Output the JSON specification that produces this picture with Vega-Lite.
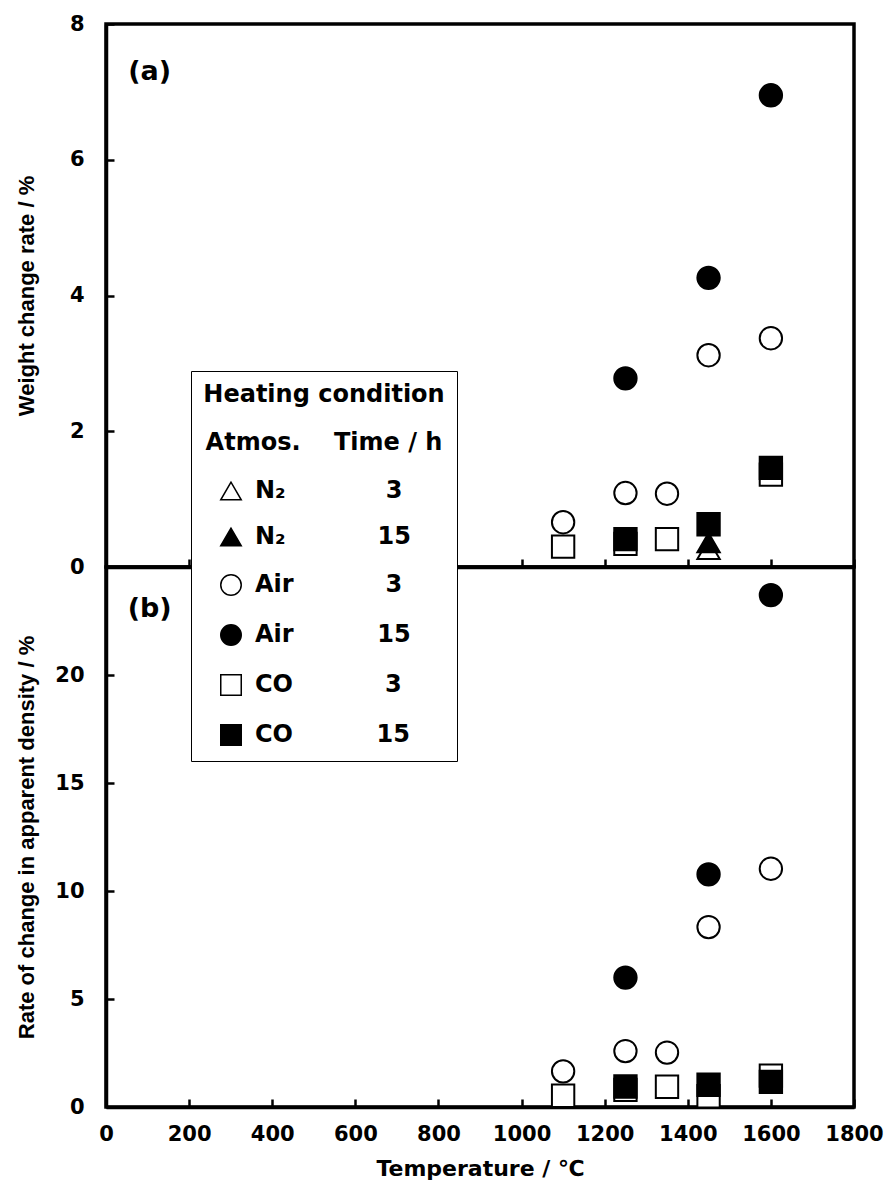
{
  "$schema": "https://vega.github.io/schema/vega-lite/v6.json",
  "background": "white",
  "padding": {"left": 13, "top": 11, "right": 10, "bottom": 10},
  "spacing": 0,
  "bounds": "flush",
  "datasets": {
    "a": [
      {"T": 1450, "v": 0.26, "cond": "N2-3"},
      {"T": 1450, "v": 0.36, "cond": "N2-15"},
      {"T": 1100, "v": 0.66, "cond": "Air-3"},
      {"T": 1250, "v": 1.09, "cond": "Air-3"},
      {"T": 1350, "v": 1.08, "cond": "Air-3"},
      {"T": 1450, "v": 3.12, "cond": "Air-3"},
      {"T": 1600, "v": 3.37, "cond": "Air-3"},
      {"T": 1250, "v": 2.78, "cond": "Air-15"},
      {"T": 1450, "v": 4.26, "cond": "Air-15"},
      {"T": 1600, "v": 6.95, "cond": "Air-15"},
      {"T": 1100, "v": 0.30, "cond": "CO-3"},
      {"T": 1250, "v": 0.34, "cond": "CO-3"},
      {"T": 1350, "v": 0.41, "cond": "CO-3"},
      {"T": 1600, "v": 1.36, "cond": "CO-3"},
      {"T": 1250, "v": 0.41, "cond": "CO-15"},
      {"T": 1450, "v": 0.63, "cond": "CO-15"},
      {"T": 1600, "v": 1.46, "cond": "CO-15"}
    ],
    "b": [
      {"T": 1100, "v": 1.65, "cond": "Air-3"},
      {"T": 1250, "v": 2.59, "cond": "Air-3"},
      {"T": 1350, "v": 2.52, "cond": "Air-3"},
      {"T": 1450, "v": 8.33, "cond": "Air-3"},
      {"T": 1600, "v": 11.03, "cond": "Air-3"},
      {"T": 1250, "v": 5.99, "cond": "Air-15"},
      {"T": 1450, "v": 10.77, "cond": "Air-15"},
      {"T": 1600, "v": 23.7, "cond": "Air-15"},
      {"T": 1100, "v": 0.52, "cond": "CO-3"},
      {"T": 1250, "v": 0.79, "cond": "CO-3"},
      {"T": 1350, "v": 0.94, "cond": "CO-3"},
      {"T": 1450, "v": 0.5, "cond": "CO-3"},
      {"T": 1600, "v": 1.45, "cond": "CO-3"},
      {"T": 1250, "v": 0.95, "cond": "CO-15"},
      {"T": 1450, "v": 1.03, "cond": "CO-15"},
      {"T": 1600, "v": 1.16, "cond": "CO-15"}
    ]
  },
  "config": {
    "view": {"stroke": "black", "strokeWidth": 3.5},
    "axis": {
      "domainColor": "black", "domainWidth": 3.5,
      "tickColor": "black", "tickWidth": 2.5, "tickSize": -8,
      "labelFont": "DejaVu Sans", "labelFontSize": 21, "labelFontWeight": "bold", "labelColor": "black",
      "labelFlush": false, "labelOverlap": false, "format": "d",
      "titleFont": "Liberation Sans", "titleFontSize": 22, "titleFontWeight": "bold", "titleColor": "black",
      "grid": false
    },
    "axisY": {"labelPadding": 30, "titleX": -80, "titleBaseline": "middle", "titleAngle": 270, "titleAlign": "center"},
    "axisX": {"labelPadding": 24}
  },
  "vconcat": [
    {
      "width": 748,
      "height": 543,
      "layer": [
        {
          "data": {"name": "a"},
          "mark": {"type": "point", "filled": true, "stroke": "black", "strokeWidth": 2, "opacity": 1, "size": 500},
          "encoding": {
            "x": {"field": "T", "type": "quantitative", "scale": {"domain": [0, 1800], "nice": false},
                  "axis": {"values": [0, 200, 400, 600, 800, 1000, 1200, 1400, 1600, 1800], "labels": false, "title": null}},
            "y": {"field": "v", "type": "quantitative", "scale": {"domain": [0, 8], "nice": false},
                  "axis": {"values": [0, 2, 4, 6, 8], "title": "Weight change rate / %", "titleY": 271.5}},
            "shape": {"field": "cond", "type": "nominal",
              "scale": {"domain": ["N2-3", "N2-15", "Air-3", "Air-15", "CO-3", "CO-15"],
                        "range": ["triangle-up", "triangle-up", "circle", "circle", "square", "square"]},
              "legend": {
                "orient": "none", "legendX": 85, "legendY": 347,
                "title": ["Heating condition", "Atmos.\u00a0\u00a0\u00a0\u00a0Time / h"],
                "labelExpr": "datum.value=='N2-3'?'N\u2082\u00a0\u00a0\u00a0\u00a0\u00a0\u00a0\u00a0\u00a0\u00a0\u00a0\u00a0\u00a03':datum.value=='N2-15'?'N\u2082\u00a0\u00a0\u00a0\u00a0\u00a0\u00a0\u00a0\u00a0\u00a0\u00a0\u00a015':datum.value=='Air-3'?'Air\u00a0\u00a0\u00a0\u00a0\u00a0\u00a0\u00a0\u00a0\u00a0\u00a0\u00a03':datum.value=='Air-15'?'Air\u00a0\u00a0\u00a0\u00a0\u00a0\u00a0\u00a0\u00a0\u00a0\u00a015':datum.value=='CO-3'?'CO\u00a0\u00a0\u00a0\u00a0\u00a0\u00a0\u00a0\u00a0\u00a0\u00a0\u00a03':'CO\u00a0\u00a0\u00a0\u00a0\u00a0\u00a0\u00a0\u00a0\u00a0\u00a015'",
                "titleFont": "DejaVu Sans", "titleFontSize": 24, "titleFontWeight": "bold", "titleColor": "black",
                "titleAnchor": "middle", "titleLineHeight": 48, "titlePadding": 24, "titleLimit": 500,
                "labelFont": "DejaVu Sans", "labelFontSize": 24, "labelFontWeight": "bold", "labelColor": "black",
                "labelLimit": 500, "labelOffset": 12,
                "symbolSize": 420, "symbolOffset": -18,
                "rowPadding": 22, "padding": 12, "strokeColor": "black", "fillColor": "white", "cornerRadius": 0,
                "encode": {
                  "legend": {"update": {"strokeWidth": {"value": 2}}},
                  "symbols": {"update": {"stroke": {"value": "black"}, "strokeWidth": {"value": 2}, "opacity": {"value": 1}}}
                }
              }},
            "fill": {"field": "cond", "type": "nominal",
              "scale": {"domain": ["N2-3", "N2-15", "Air-3", "Air-15", "CO-3", "CO-15"],
                        "range": ["white", "black", "white", "black", "white", "black"]},
              "legend": {
                "orient": "none", "legendX": 85, "legendY": 347,
                "title": ["Heating condition", "Atmos.\u00a0\u00a0\u00a0\u00a0Time / h"],
                "labelExpr": "datum.value=='N2-3'?'N\u2082\u00a0\u00a0\u00a0\u00a0\u00a0\u00a0\u00a0\u00a0\u00a0\u00a0\u00a0\u00a03':datum.value=='N2-15'?'N\u2082\u00a0\u00a0\u00a0\u00a0\u00a0\u00a0\u00a0\u00a0\u00a0\u00a0\u00a015':datum.value=='Air-3'?'Air\u00a0\u00a0\u00a0\u00a0\u00a0\u00a0\u00a0\u00a0\u00a0\u00a0\u00a03':datum.value=='Air-15'?'Air\u00a0\u00a0\u00a0\u00a0\u00a0\u00a0\u00a0\u00a0\u00a0\u00a015':datum.value=='CO-3'?'CO\u00a0\u00a0\u00a0\u00a0\u00a0\u00a0\u00a0\u00a0\u00a0\u00a0\u00a03':'CO\u00a0\u00a0\u00a0\u00a0\u00a0\u00a0\u00a0\u00a0\u00a0\u00a015'",
                "titleFont": "DejaVu Sans", "titleFontSize": 24, "titleFontWeight": "bold", "titleColor": "black",
                "titleAnchor": "middle", "titleLineHeight": 48, "titlePadding": 24, "titleLimit": 500,
                "labelFont": "DejaVu Sans", "labelFontSize": 24, "labelFontWeight": "bold", "labelColor": "black",
                "labelLimit": 500, "labelOffset": 12,
                "symbolSize": 420, "symbolOffset": -18,
                "rowPadding": 22, "padding": 12, "strokeColor": "black", "fillColor": "white", "cornerRadius": 0,
                "encode": {
                  "legend": {"update": {"strokeWidth": {"value": 2}}},
                  "symbols": {"update": {"stroke": {"value": "black"}, "strokeWidth": {"value": 2}, "opacity": {"value": 1}}}
                }
              }}
          }
        },
        {
          "data": {"values": [{"label": "(a)"}]},
          "mark": {"type": "text", "font": "DejaVu Sans", "fontSize": 27, "fontWeight": "bold", "align": "center", "baseline": "middle", "color": "black"},
          "encoding": {
            "x": {"datum": 105, "type": "quantitative"},
            "y": {"datum": 7.29, "type": "quantitative"},
            "text": {"field": "label"}
          }
        }
      ]
    },
    {
      "width": 748,
      "height": 540,
      "layer": [
        {
          "data": {"name": "b"},
          "mark": {"type": "point", "filled": true, "stroke": "black", "strokeWidth": 2, "opacity": 1, "size": 500},
          "encoding": {
            "x": {"field": "T", "type": "quantitative", "scale": {"domain": [0, 1800], "nice": false},
                  "axis": {"values": [0, 200, 400, 600, 800, 1000, 1200, 1400, 1600, 1800], "title": "Temperature / \u2103",
                           "titleFont": "DejaVu Sans", "titleFontSize": 22, "titlePadding": 14}},
            "y": {"field": "v", "type": "quantitative", "scale": {"domain": [0, 25], "nice": false},
                  "axis": {"values": [0, 5, 10, 15, 20], "title": "Rate of change in apparent density / %", "titleY": 270}},
            "shape": {"field": "cond", "type": "nominal",
              "scale": {"domain": ["N2-3", "N2-15", "Air-3", "Air-15", "CO-3", "CO-15"],
                        "range": ["triangle-up", "triangle-up", "circle", "circle", "square", "square"]},
              "legend": null},
            "fill": {"field": "cond", "type": "nominal",
              "scale": {"domain": ["N2-3", "N2-15", "Air-3", "Air-15", "CO-3", "CO-15"],
                        "range": ["white", "black", "white", "black", "white", "black"]},
              "legend": null}
          }
        },
        {
          "data": {"values": [{"label": "(b)"}]},
          "mark": {"type": "text", "font": "DejaVu Sans", "fontSize": 27, "fontWeight": "bold", "align": "center", "baseline": "middle", "color": "black"},
          "encoding": {
            "x": {"datum": 105, "type": "quantitative"},
            "y": {"datum": 23.05, "type": "quantitative"},
            "text": {"field": "label"}
          }
        }
      ]
    }
  ]
}
